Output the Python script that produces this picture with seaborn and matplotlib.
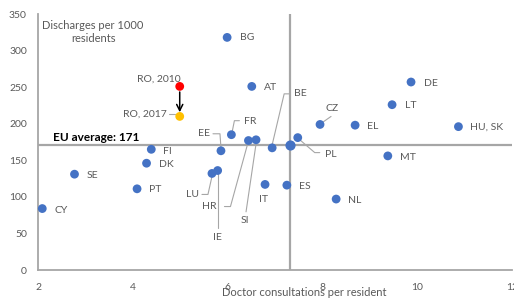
import matplotlib
matplotlib.use("Agg")
import matplotlib.pyplot as plt
import matplotlib.transforms as mtransforms
import pandas as pd
import seaborn as sns

# Data
countries = ["BG", "AT", "DE", "LT", "EL", "HU, SK", "CZ", "MT", "NL", "ES", "IT", "PL",
             "BE", "SI", "HR", "FR", "EE", "IE", "LU", "FI", "DK", "SE", "PT", "CY"]
consultations = [5.99, 6.51, 9.87, 9.47, 8.69, 10.87, 7.95, 9.38, 8.29, 7.25, 6.79, 7.48,
                 6.94, 6.60, 6.44, 6.08, 5.86, 5.79, 5.67, 4.39, 4.29, 2.77, 4.09, 2.09]
discharges = [318, 251, 257, 226, 198, 196, 199, 156, 97, 116, 117, 181,
              167, 178, 177, 185, 163, 136, 132, 165, 146, 131, 111, 84]

ro_labels = ["RO, 2010", "RO, 2017"]
ro_consultations = [4.99, 4.99]
ro_discharges = [251, 210]

eu_consultations = 7.32
eu_discharges = 171

x_ticks = [2, 4, 6, 8, 10, 12]
y_ticks = [0, 50, 100, 150, 200, 250, 300, 350]

# label placement: (dx, dy) in pixels from the point (dy down), alignment, leader waypoints
label_pos = {
    "BG": (13, 0, "left", None),
    "AT": (12, 1, "left", None),
    "DE": (13, 1, "left", None),
    "LT": (13, 1, "left", None),
    "EL": (12, 1, "left", None),
    "HU, SK": (12, 1, "left", None),
    "MT": (12, 2, "left", None),
    "NL": (12, 1, "left", None),
    "ES": (12, 1, "left", None),
    "FI": (12, 2, "left", None),
    "DK": (12, 1, "left", None),
    "SE": (12, 1, "left", None),
    "PT": (12, 1, "left", None),
    "CY": (12, 2, "left", None),
    "IT": (-2, 15, "center", None),
    "CZ": (12, -16, "center", [(1, -1), (11, -8)]),
    "PL": (27, 17, "left", [(3, 3), (17, 15), (22, 15)]),
    "LU": (-13, 21, "right", [(-10, 21), (-4, 21), (0, 3)]),
    "IE": (0, 67, "center", [(0, 3), (0, 57)]),
    "HR": (-32, 66, "right", [(-24, 66), (-18, 66), (-1, 4)]),
    "SI": (-11, 81, "center", [(-10, 72), (0, 4)]),
    "EE": (-11, -17, "right", [(-8, -17), (-1, -17), (0, -3)]),
    "FR": (13, -13, "left", [(1, -4), (3, -14), (8, -14)]),
    "BE": (22, -54, "left", [(0, -3), (12, -54), (17, -54)]),
}

blue = "#4472C4"
grey = "#A6A6A6"
text_grey = "#595959"

sns.set_style("white")
plt.rcParams["font.family"] = ["Lato", "DejaVu Sans"]

df = pd.DataFrame({"country": countries, "consultations": consultations,
                   "discharges": discharges})

fig = plt.figure(figsize=(5.14, 2.99), dpi=100)
ax = fig.add_axes([38 / 514, 1 - 270 / 299, 474 / 514, 256 / 299])

# EU average lines
ax.axhline(eu_discharges, color=grey, lw=1.6, zorder=1)
ax.axvline(eu_consultations, color=grey, lw=1.6, zorder=1)

sns.scatterplot(data=df, x="consultations", y="discharges", color=blue, s=40,
                edgecolor="none", ax=ax, zorder=3, clip_on=False)
ax.scatter([eu_consultations], [eu_discharges], color=blue, s=40, zorder=3)
sns.scatterplot(x=ro_consultations, y=ro_discharges, hue=ro_labels,
                palette=["#FF0000", "#FFC000"], s=40, edgecolor="none",
                legend=False, ax=ax, zorder=3)

ax.annotate("", xy=(ro_consultations[1], ro_discharges[1]),
            xytext=(ro_consultations[0], ro_discharges[0]),
            arrowprops=dict(arrowstyle="->", color="black", lw=1.1,
                            shrinkA=4, shrinkB=3, mutation_scale=11), zorder=4)

ax.set_xlim(2, 12)
ax.set_ylim(0, 350)
ax.set_xticks(x_ticks)
ax.set_yticks(y_ticks)
ax.tick_params(length=0, colors=text_grey, labelsize=7.5)
ax.tick_params(axis="x", pad=9)
ax.tick_params(axis="y", pad=8)
for side in ["top", "right"]:
    ax.spines[side].set_visible(False)
for side in ["left", "bottom"]:
    ax.spines[side].set_color(grey)
    ax.spines[side].set_linewidth(1.3)
ax.set_xlabel("")
ax.set_ylabel("")

fig.canvas.draw()
ident = mtransforms.IdentityTransform()


def to_px(x, y, dx, dy):
    px, py = ax.transData.transform((x, y))
    return px + dx, py - dy


for name, x, y in zip(countries, consultations, discharges):
    dx, dy, ha, leader = label_pos[name]
    ax.annotate(name, (x, y), xytext=(dx, -dy), textcoords="offset pixels",
                ha=ha, va="center", fontsize=7.5, color=text_grey)
    if leader:
        pts = [to_px(x, y, lx, ly) for lx, ly in leader]
        ax.plot([p[0] for p in pts], [p[1] for p in pts], color=grey, lw=0.8,
                transform=ident, clip_on=False, zorder=2)

# Romania labels
ax.annotate(ro_labels[0], (ro_consultations[0], ro_discharges[0]), xytext=(1, 7),
            textcoords="offset pixels", ha="right", va="center", fontsize=7.5,
            color=text_grey)
ax.annotate(ro_labels[1], (ro_consultations[1], ro_discharges[1]), xytext=(-13, 2),
            textcoords="offset pixels", ha="right", va="center", fontsize=7.5,
            color=text_grey)
pts = [to_px(ro_consultations[1], ro_discharges[1], lx, -2) for lx in (-11, -5)]
ax.plot([p[0] for p in pts], [p[1] for p in pts], color=grey, lw=0.8,
        transform=ident, clip_on=False)

ax.annotate(f"EU average: {eu_discharges}", (0.032, eu_discharges),
            xycoords=("axes fraction", "data"), xytext=(0, 7),
            textcoords="offset pixels", ha="left", va="center",
            fontsize=8.5, fontweight="bold", color="black")

ax.text(93 / 514, 1 - 32 / 299, "Discharges per 1000\nresidents", transform=fig.transFigure,
        ha="center", va="center", fontsize=8, color=text_grey, linespacing=1.15)
ax.text(304 / 514, 1 - 293 / 299, "Doctor consultations per resident",
        transform=fig.transFigure, ha="center", va="center", fontsize=8, color=text_grey)

fig.savefig("out.png", dpi=100)
